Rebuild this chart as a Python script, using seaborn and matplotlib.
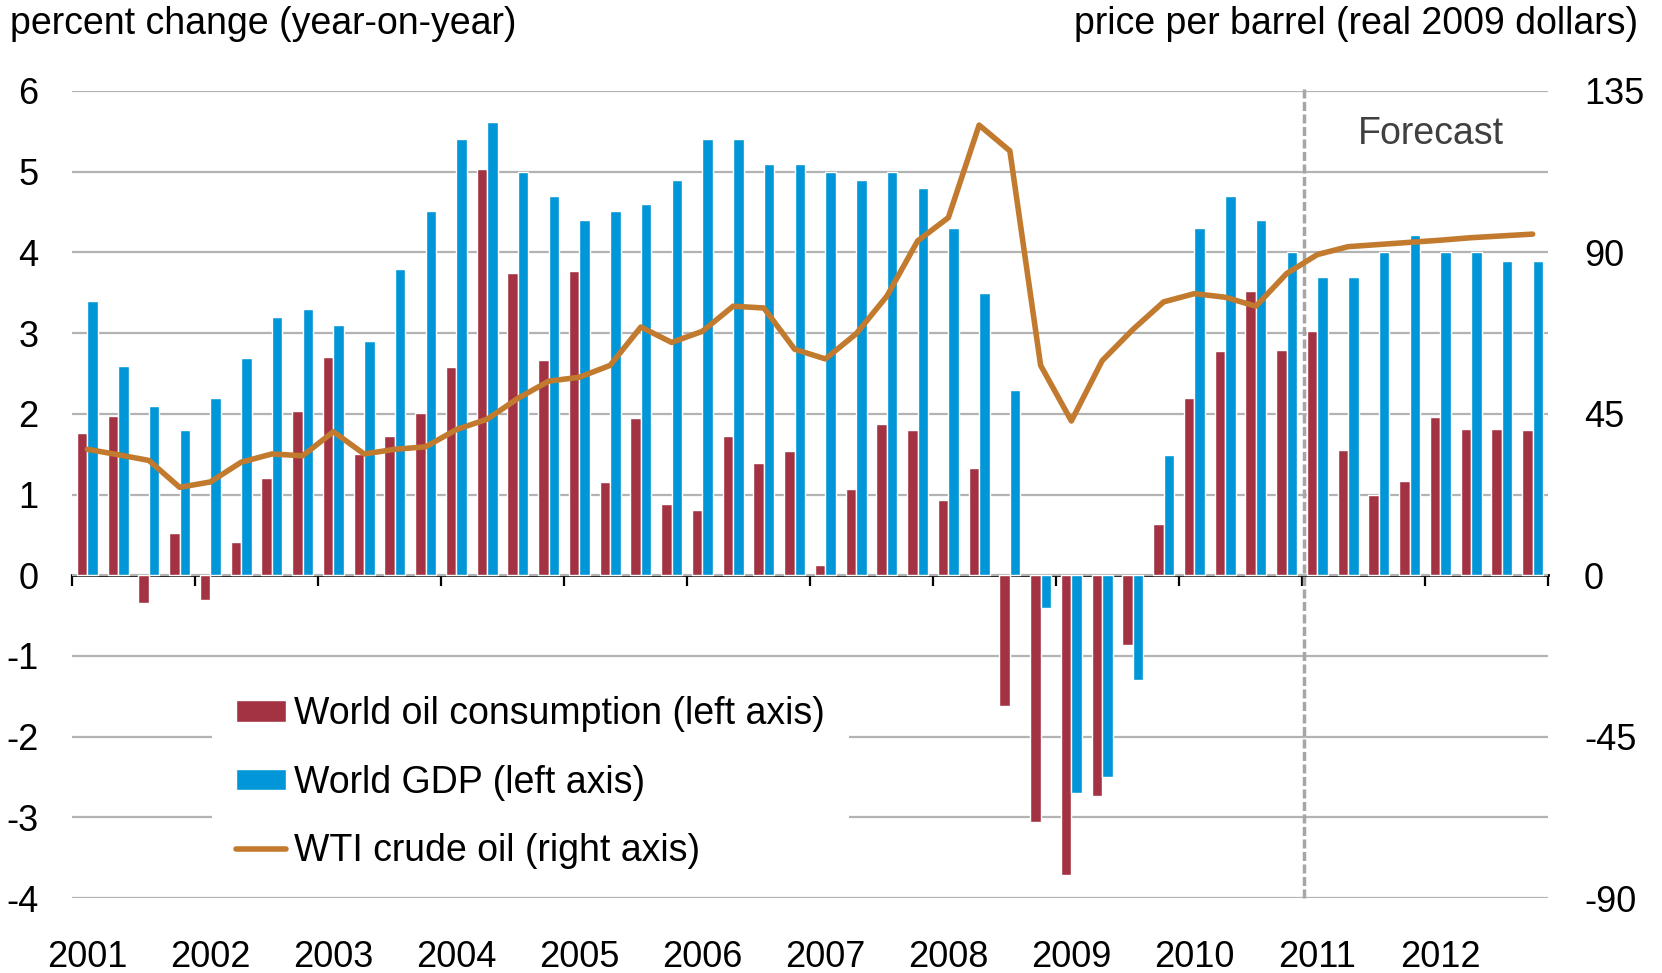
import numpy as np
import pandas as pd
import matplotlib.pyplot as plt
import seaborn as sns

# --- data ---
YEARS = list(range(2001, 2013))
QUARTERS = [f"{y}Q{q}" for y in YEARS for q in range(1, 5)]

# World oil consumption, percent change y/y (left axis)
OIL_CONSUMPTION = [
    1.76, 1.97, -0.34, 0.52,
    -0.31, 0.41, 1.20, 2.04,
    2.71, 1.50, 1.73, 2.01,
    2.58, 5.03, 3.75, 2.67,
    3.77, 1.16, 1.95, 0.88,
    0.81, 1.73, 1.39, 1.54,
    0.13, 1.07, 1.87, 1.80,
    0.93, 1.33, -1.62, -3.06,
    -3.72, -2.73, -0.86, 0.64,
    2.19, 2.78, 3.52, 2.79,
    3.03, 1.55, 0.99, 1.17,
    1.96, 1.81, 1.81, 1.80,
]

# World GDP, percent change y/y (left axis)
WORLD_GDP = [
    3.40, 2.59, 2.10, 1.80,
    2.19, 2.69, 3.20, 3.30,
    3.10, 2.90, 3.80, 4.51,
    5.41, 5.61, 5.00, 4.70,
    4.40, 4.51, 4.60, 4.90,
    5.41, 5.41, 5.10, 5.10,
    5.00, 4.90, 5.00, 4.80,
    4.30, 3.50, 2.30, -0.41,
    -2.70, -2.50, -1.30, 1.49,
    4.30, 4.70, 4.40, 4.00,
    3.70, 3.70, 4.00, 4.21,
    4.00, 4.00, 3.89, 3.89,
]

# WTI crude oil, price per barrel in real 2009 dollars (right axis)
WTI_PRICE = [
    35.1, 33.6, 32.0, 24.5,
    26.0, 31.5, 33.8, 33.3,
    40.0, 33.8, 35.1, 35.8,
    40.6, 43.5, 49.3, 54.1,
    55.2, 58.5, 69.2, 64.9,
    68.0, 75.0, 74.5, 63.0,
    60.3, 67.3, 77.8, 93.2,
    99.7, 125.5, 118.3, 58.5,
    43.0, 59.8, 68.5, 76.2,
    78.5, 77.5, 75.0, 84.1,
    89.4, 91.6, 92.2, 92.8,
    93.4, 94.1, 94.6, 95.1,
]

LBL_OIL = 'World oil consumption (left axis)'
LBL_GDP = 'World GDP (left axis)'
LBL_WTI = 'WTI crude oil (right axis)'

RED = '#A33343'
BLUE = '#0096D7'
ORANGE = '#C27A2E'
GRID = '#B3B3B3'
FS = 26      # tick labels
FS_TXT = 27  # titles, legend, annotation

sns.set_theme(style='white')
plt.rcParams['font.family'] = ['Liberation Sans', 'DejaVu Sans']
plt.rcParams['axes.unicode_minus'] = False
plt.rcParams['text.color'] = 'black'

df = pd.DataFrame({
    'quarter': QUARTERS * 2,
    'value': OIL_CONSUMPTION + WORLD_GDP,
    'series': [LBL_OIL] * len(QUARTERS) + [LBL_GDP] * len(QUARTERS),
})

fig, ax = plt.subplots(figsize=(16.62, 9.73), dpi=100)
fig.subplots_adjust(left=72 / 1662, right=1548 / 1662,
                    bottom=1 - 898 / 973, top=1 - 91 / 973)

sns.barplot(data=df, x='quarter', y='value', hue='series',
            palette=[RED, BLUE], width=0.68, saturation=1,
            errorbar=None, ax=ax)

ax2 = ax.twinx()
sns.lineplot(x=np.arange(len(QUARTERS)), y=WTI_PRICE, ax=ax2,
             color=ORANGE, lw=4, label=LBL_WTI)

# left axis
ax.set_xlim(-0.5, len(QUARTERS) - 0.5)
ax.set_ylim(-4, 6)
ax.set_yticks(range(-4, 7))
ax.yaxis.grid(True, color=GRID, lw=1.6)
ax.xaxis.grid(False)
ax.set_axisbelow(True)
ax.set_xlabel('')
ax.set_ylabel('')
ax.set_xticks(range(0, len(QUARTERS), 4))
ax.set_xticklabels([str(y) for y in YEARS])
ax.tick_params(axis='x', length=0, pad=30, labelsize=FS, colors='black')
ax.tick_params(axis='y', length=0, pad=24, labelsize=FS, colors='black')
for s in ax.spines.values():
    s.set_visible(False)

# zero line with year boundary ticks
sec = ax.secondary_xaxis(0.4)
sec.set_xticks(np.arange(-0.5, len(QUARTERS), 4))
sec.tick_params(axis='x', length=8, width=1.6, direction='out',
                labelbottom=False, color='black')
sec.spines['bottom'].set_linewidth(2)
sec.spines['bottom'].set_color('black')

# right axis
ax2.set_ylim(-90, 135)
ax2.set_yticks(range(-90, 136, 45))
ax2.tick_params(axis='y', length=0, pad=26, labelsize=FS, colors='black')
ax2.set_ylabel('')
ax2.grid(False)
for s in ax2.spines.values():
    s.set_visible(False)

# forecast marker
ax.axvline(39.57, ymin=0.0, ymax=1.005, color='#A6A6A6', lw=2.5,
           ls=(0, (2.6, 1.0)), clip_on=False, zorder=4)
ax.text(43.7, 5.47, 'Forecast', ha='center', va='center',
        fontsize=FS_TXT, color='#404040')

# legend
if ax.get_legend() is not None:
    ax.get_legend().remove()
h1, l1 = ax.get_legend_handles_labels()
h2, l2 = ax2.get_legend_handles_labels()
if ax2.get_legend() is not None:
    ax2.get_legend().remove()
leg = ax2.legend(h1 + h2, l1 + l2, loc='upper left',
                 bbox_to_anchor=(0.0949, 0.280), bbox_transform=ax.transAxes,
                 borderaxespad=0, borderpad=0.65, fontsize=FS_TXT,
                 handlelength=1.33, handleheight=0.5, handletextpad=0.2,
                 labelspacing=0.86, frameon=True, fancybox=False,
                 facecolor='white', edgecolor='none', framealpha=1,
                 labelcolor='black')
leg.get_frame().set_linewidth(0)

# axis titles
fig.text(10 / 1662, 1 - 24 / 973, 'percent change (year-on-year)',
         ha='left', va='center', fontsize=FS_TXT, color='black')
fig.text(1638 / 1662, 1 - 24 / 973, 'price per barrel (real 2009 dollars)',
         ha='right', va='center', fontsize=FS_TXT, color='black')

fig.savefig('out.png', dpi=100)
